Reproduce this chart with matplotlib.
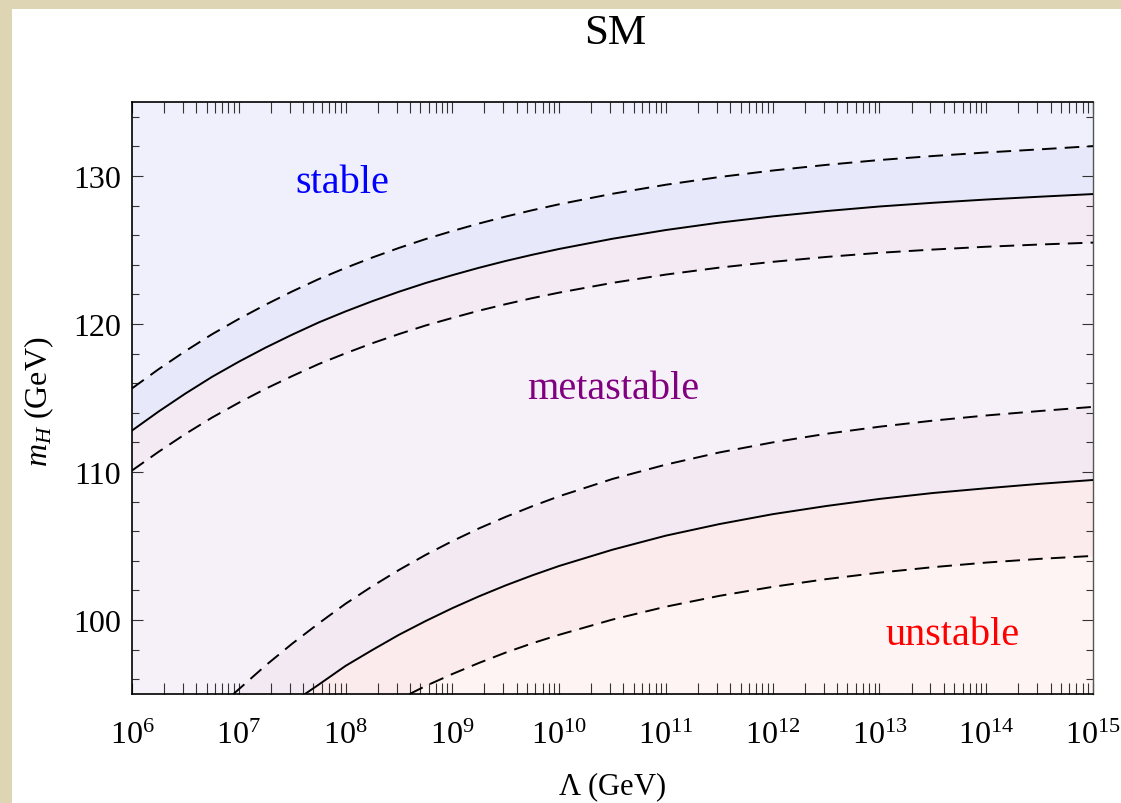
import numpy as np
import matplotlib
matplotlib.use("Agg")
import matplotlib.pyplot as plt
from matplotlib.patches import Rectangle
from matplotlib.ticker import LogLocator, MultipleLocator, NullFormatter, FixedLocator, FixedFormatter

plt.rcParams["font.family"] = ["Liberation Serif", "DejaVu Serif"]
plt.rcParams["mathtext.fontset"] = "custom"
plt.rcParams["mathtext.rm"] = "Liberation Serif"
plt.rcParams["mathtext.it"] = "Liberation Serif:italic"

# ---- data: log10(Lambda / GeV) and Higgs mass bounds (GeV) ----
log_lambda = [6.0, 6.25, 6.5, 6.75, 7.0, 7.25, 7.5, 7.75, 8.0, 8.25, 8.5, 8.75,
              9.0, 9.25, 9.5, 9.75, 10.0, 10.5, 11.0, 11.5, 12.0, 12.5,
              13.0, 13.5, 14.0, 14.5, 15.0]
stable_central = [112.8, 114.09, 115.3, 116.43, 117.45, 118.4, 119.28, 120.11, 120.85, 121.54, 122.18, 122.77,
                  123.3, 123.8, 124.26, 124.68, 125.07, 125.76, 126.35, 126.85, 127.27, 127.63,
                  127.94, 128.19, 128.41, 128.6, 128.78]
stable_upper = [115.65, 116.95, 118.17, 119.31, 120.34, 121.3, 122.2, 123.04, 123.79, 124.49, 125.14, 125.74,
                126.28, 126.79, 127.26, 127.69, 128.09, 128.8, 129.41, 129.93, 130.37, 130.75,
                131.08, 131.35, 131.59, 131.8, 132.02]
stable_lower = [110.1, 111.37, 112.57, 113.68, 114.68, 115.62, 116.48, 117.3, 118.02, 118.7, 119.32, 119.9,
                120.41, 120.9, 121.34, 121.75, 122.12, 122.78, 123.34, 123.81, 124.2, 124.53,
                124.81, 125.03, 125.22, 125.37, 125.5]

log_lambda_meta_upper = [6.95, 7.25, 7.5, 7.75, 8.0, 8.25, 8.5, 8.75, 9.0, 9.25, 9.5, 9.75,
                         10.0, 10.5, 11.0, 11.5, 12.0, 12.5, 13.0, 13.5, 14.0, 14.5, 15.0]
meta_upper = [95.0, 96.92, 98.4, 99.78, 101.1, 102.28, 103.38, 104.4, 105.33, 106.19, 106.97, 107.69,
              108.36, 109.53, 110.5, 111.32, 112.0, 112.58, 113.06, 113.47, 113.82, 114.12, 114.4]

log_lambda_meta_central = [7.62, 7.75, 8.0, 8.25, 8.5, 8.75, 9.0, 9.25, 9.5, 9.75,
                           10.0, 10.5, 11.0, 11.5, 12.0, 12.5, 13.0, 13.5, 14.0, 14.5, 15.0]
meta_central = [95.0, 95.64, 96.9, 97.97, 99.0, 99.93, 100.8, 101.6, 102.34, 103.02,
                103.65, 104.75, 105.7, 106.48, 107.15, 107.7, 108.18, 108.58, 108.9, 109.2, 109.46]

log_lambda_meta_lower = [8.6, 8.75, 9.0, 9.25, 9.5, 9.75, 10.0, 10.5, 11.0, 11.5, 12.0, 12.5,
                         13.0, 13.5, 14.0, 14.5, 15.0]
meta_lower = [95.0, 95.54, 96.35, 97.1, 97.8, 98.43, 99.0, 100.03, 100.9, 101.63, 102.24, 102.76,
              103.2, 103.57, 103.88, 104.13, 104.33]

x_tick_exponents = [6, 7, 8, 9, 10, 11, 12, 13, 14, 15]
y_ticks = [100, 110, 120, 130]
x_range = (1e6, 1e15)
y_range = (95, 135)

# region colours, top (stable) to bottom (unstable)
c_top = "#F0F0FC"
c_band_s1 = "#E7E9FA"
c_band_s2 = "#F3EAF4"
c_meta = "#F6F1F8"
c_band_m1 = "#F2E9F3"
c_band_m2 = "#FCEBEC"
c_bottom = "#FEF4F4"

W, H = 1121, 804
fig = plt.figure(figsize=(W / 100, H / 100), dpi=100)
fig.patch.set_facecolor("#DDD5B3")
fig.add_artist(Rectangle((12 / W, 0), 1 - 12 / W, 1 - 10 / H, transform=fig.transFigure,
                         facecolor="white", edgecolor="none", zorder=0))

ax = fig.add_axes([132 / W, 1 - 695 / H, (1093 - 132) / W, (695 - 103) / H])
ax.set_facecolor(c_top)
ax.set_xscale("log")
ax.set_xlim(*x_range)
ax.set_ylim(*y_range)

L = 10.0 ** np.array(log_lambda)
Lmu = 10.0 ** np.array(log_lambda_meta_upper)
Lmc = 10.0 ** np.array(log_lambda_meta_central)
Lml = 10.0 ** np.array(log_lambda_meta_lower)
y0 = y_range[0]

ax.fill_between(L, stable_upper, y0, color=c_band_s1, lw=0, zorder=1)
ax.fill_between(L, stable_central, y0, color=c_band_s2, lw=0, zorder=1)
ax.fill_between(L, stable_lower, y0, color=c_meta, lw=0, zorder=1)
ax.fill_between(Lmu, meta_upper, y0, color=c_band_m1, lw=0, zorder=1)
ax.fill_between(Lmc, meta_central, y0, color=c_band_m2, lw=0, zorder=1)
ax.fill_between(Lml, meta_lower, y0, color=c_bottom, lw=0, zorder=1)

dash = (0, (7.5, 4.2))
lw = 1.4
ax.plot(L, stable_central, color="black", lw=lw, zorder=3)
ax.plot(L, stable_upper, color="black", lw=lw, ls=dash, zorder=3)
ax.plot(L, stable_lower, color="black", lw=lw, ls=dash, zorder=3)
ax.plot(Lmc, meta_central, color="black", lw=lw, zorder=3)
ax.plot(Lmu, meta_upper, color="black", lw=lw, ls=dash, zorder=3)
ax.plot(Lml, meta_lower, color="black", lw=lw, ls=dash, zorder=3)

# region labels
ax.text(10 ** 7.97, 128.9, "stable", color="#0000FF", fontsize=29, ha="center", va="baseline", zorder=4)
ax.text(10 ** 10.51, 115.0, "metastable", color="#800080", fontsize=29, ha="center", va="baseline", zorder=4)
ax.text(10 ** 13.68, 98.4, "unstable", color="#FF0000", fontsize=29, ha="center", va="baseline", zorder=4)

# ticks
ax.xaxis.set_major_locator(FixedLocator([10.0 ** e for e in x_tick_exponents]))
ax.xaxis.set_major_formatter(FixedFormatter([r"$10^{%d}$" % e for e in x_tick_exponents]))
ax.xaxis.set_minor_locator(LogLocator(base=10, subs=np.arange(2, 10), numticks=50))
ax.xaxis.set_minor_formatter(NullFormatter())
ax.yaxis.set_major_locator(FixedLocator(y_ticks))
ax.yaxis.set_minor_locator(MultipleLocator(2))

ax.tick_params(axis="x", which="both", direction="in", top=True, bottom=True,
               length=8, width=0.8, color="#333333", labelsize=23, pad=19)
ax.tick_params(axis="y", which="major", direction="in", left=True, right=True,
               length=8, width=0.8, color="#333333", labelsize=23, pad=8)
ax.tick_params(axis="y", which="minor", direction="in", left=True, right=True,
               length=5, width=0.8, color="#333333")
for side in ["left", "bottom", "top"]:
    ax.spines[side].set_linewidth(1.2)
    ax.spines[side].set_color("black")
ax.spines["right"].set_linewidth(1.0)
ax.spines["right"].set_color("#555555")

fig.text(615 / W, 1 - 34 / H, "SM", fontsize=31, ha="center", va="center")
fig.text(612 / W, 1 - 787 / H, r"$\Lambda$ (GeV)", fontsize=22, ha="center", va="center")
fig.text(39 / W, 1 - 402 / H, r"$m_H$ (GeV)", fontsize=23, ha="center", va="center", rotation=90)

fig.savefig("out.png", dpi=100)
